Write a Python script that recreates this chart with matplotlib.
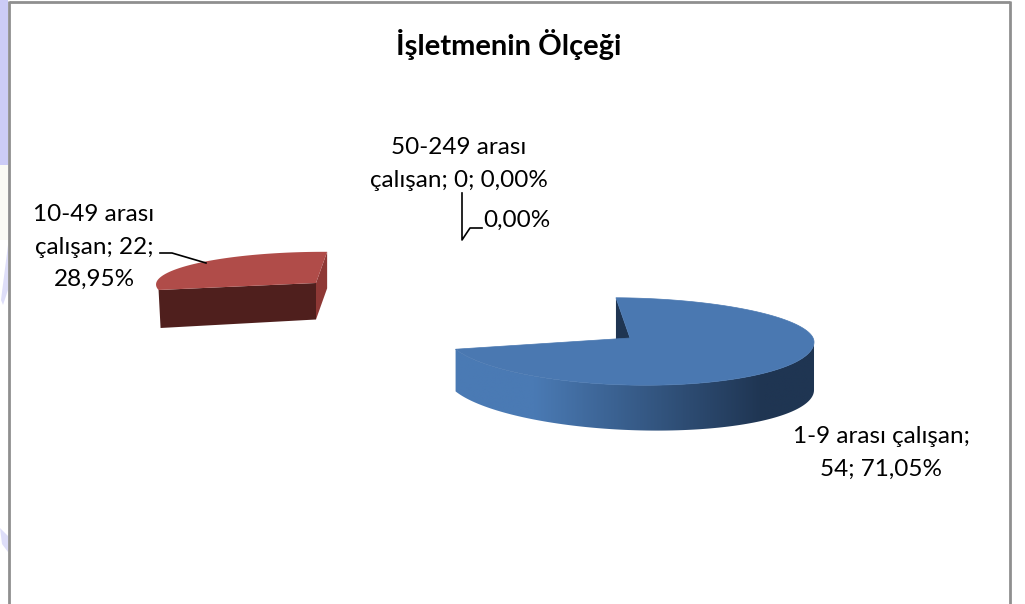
import numpy as np
import matplotlib
matplotlib.use("Agg")
import matplotlib.pyplot as plt
from matplotlib.patches import Polygon, Rectangle
from matplotlib.colors import LinearSegmentedColormap

title = "İşletmenin Ölçeği"
categories = ["1-9 arası çalışan", "10-49 arası çalışan", "50-249 arası çalışan"]
values = [54, 22, 0]
percent_labels = ["71,05%", "28,95%", "0,00%"]

plt.rcParams['font.family'] = ['Lato', 'DejaVu Sans']
fig = plt.figure(figsize=(10.25, 6.04), dpi=100)
ax = fig.add_axes([0, 0, 1, 1])
ax.axis('off')

# backdrop and chart frame
lav = '#ccccf6'
ax.add_patch(Rectangle((0, 0), 8, 165, color=lav, lw=0))
ax.add_patch(Rectangle((0, 165), 8, 75, color='#fafaf4', lw=0))
ax.add_patch(Polygon([(1, 300), (8, 245), (8, 290), (3, 305)], closed=True, color='#dedef9', lw=0))
ax.add_patch(Polygon([(0, 528), (8, 536), (8, 552), (2, 544)], closed=True, color='#dedef9', lw=0))
ax.plot([9, 9], [1, 604], color='#8f8f8f', lw=2.0, solid_capstyle='butt')
ax.plot([9, 1010], [1.5, 1.5], color='#8f8f8f', lw=2.0, solid_capstyle='butt')
ax.plot([1010, 1010], [1, 604], color='#8f8f8f', lw=2.0, solid_capstyle='butt')


def project(theta, geom):
    """Clockwise angle from 12 o'clock -> pixel position on the tilted top face."""
    cx, cy, a, b_far, b_near, s, k = geom
    c = np.cos(theta)
    b = np.where(c > 0, b_far, b_near)
    return (cx + a * np.sin(theta) + s * c,
            cy - b * c + k * np.sin(theta))


total = sum(values)
start = np.radians(-5.0)
fracs = [v / total for v in values]
spans = [2 * np.pi * f for f in fracs]

# --- blue slice
g1 = (630, 338, 184, 40, 47, 2, 4.5)
t = np.linspace(start, start + spans[0], 360)
x, y = project(t, g1)
d1 = 45 + 3 * np.sin(t)
apex = (g1[0], g1[1])
sx, sy = project(start, g1)
ax.add_patch(Polygon([(sx, sy), apex, (apex[0], apex[1] + 44), (sx, sy + 44)],
                     closed=True, fc='#1f3552', ec='none', zorder=2))
# curved outer wall: horizontal gradient clipped to the wall outline
front = np.cos(t) <= 0.012
wall = list(zip(x[front], y[front])) + list(zip(x[front][::-1], (y + d1)[front][::-1]))
wall_patch = Polygon(wall, closed=True, fc='none', ec='none', transform=ax.transData)
ax.add_patch(wall_patch)
cmap = LinearSegmentedColormap.from_list(
    'wall', [(0, '#4a7ab4'), (0.23, '#4a7ab4'), (0.86, '#1f3552'), (1, '#1f3552')])
grad = np.linspace(0, 1, 360).reshape(1, -1)
im = ax.imshow(grad, cmap=cmap, extent=(450, 815, 440, 340), aspect='auto', zorder=3,
               interpolation='bilinear')
im.set_clip_path(wall_patch)
ax.add_patch(Polygon(list(zip(x, y)) + [apex], closed=True, fc='#4a78b1', ec='#4a78b1', lw=0.5, zorder=4))

# --- red slice
g2 = (316, 283, 158, 31, 31, 25, 3.4)
d2 = 36.5
t2 = np.linspace(start + spans[0], start + spans[0] + spans[1], 100)
x2, y2 = project(t2, g2)
ap2 = (g2[0], g2[1])
ax.add_patch(Polygon([(x2[0], y2[0]), ap2, (ap2[0], ap2[1] + d2), (x2[0] + 2, y2[0] + d2 + 1.5)],
                     closed=True, fc='#4f1f1d', ec='none', zorder=3))
ax.add_patch(Polygon([(x2[-1], y2[-1]), ap2, (ap2[0], ap2[1] + d2), (x2[-1], y2[-1] + d2)],
                     closed=True, fc='#8e3835', ec='none', zorder=3))
ax.add_patch(Polygon(list(zip(x2, y2)) + [ap2], closed=True, fc='#b04c49', ec='none', zorder=4))

# --- leader lines
ax.plot([160, 172, 206], [253, 253, 263], color='black', lw=1.2, zorder=5)
ax.plot([462, 462, 470, 482], [193, 240, 228, 228], color='black', lw=1.2, zorder=5)

# --- text
tkw = dict(ha='center', va='center', fontsize=17.5, color='black', linespacing=1.68)
ax.text(509, 44, title, ha='center', va='center', fontsize=21, fontweight='bold', color='black')
ax.text(881, 453, f"{categories[0]};\n{values[0]}; {percent_labels[0]}", **tkw)
ax.text(94, 247, f"10-49 arası\nçalışan; {values[1]};\n{percent_labels[1]}", **tkw)
ax.text(459, 164, f"50-249 arası\nçalışan; {values[2]}; {percent_labels[2]}", **tkw)
ax.text(517, 220, percent_labels[2], **tkw)

ax.set_xlim(0, 1025)
ax.set_ylim(604, 0)
fig.savefig('out.png', dpi=100)
